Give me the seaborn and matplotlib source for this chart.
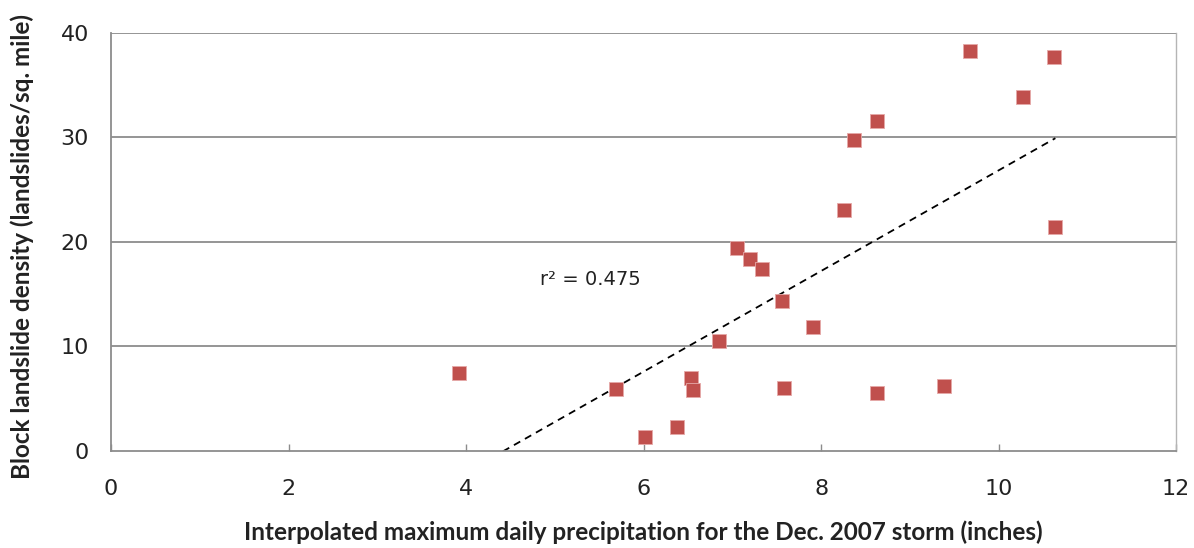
import numpy as np
import pandas as pd
import matplotlib
matplotlib.use("Agg")
import matplotlib.pyplot as plt
import seaborn as sns

precip = [3.92, 5.69, 6.02, 6.38, 6.54, 6.56, 6.85, 7.05, 7.20, 7.34, 7.56,
          7.58, 7.91, 8.26, 8.37, 8.63, 8.63, 9.39, 9.68, 10.28, 10.63, 10.64]
density = [7.46, 5.93, 1.34, 2.30, 6.99, 5.84, 10.5, 19.4, 18.4, 17.4, 14.35,
           6.03, 11.87, 23.06, 29.76, 31.58, 5.55, 6.22, 38.28, 33.88, 37.7, 21.44]
x_ticks = [0, 2, 4, 6, 8, 10, 12]
y_ticks = [0, 10, 20, 30, 40]
r2_label = "r² = 0.475"

df = pd.DataFrame({"precip": precip, "density": density})

sns.set_theme(style="white")
plt.rcParams['font.family'] = ['DejaVu Sans']

fig = plt.figure(figsize=(11.94, 5.48), dpi=100)
ax = fig.add_axes([0.093, 0.177, 0.892, 0.763])

for yv in y_ticks[1:]:
    ax.axhline(yv, color="#8c8c8c", lw=1.3, zorder=0)

sns.scatterplot(data=df, x="precip", y="density", marker="s", s=110,
                color="#C0504D", edgecolor="#e6a9a8", linewidth=0.6, ax=ax, zorder=3)

# linear trendline (Excel-style, over data range)
slope, intercept = np.polyfit(df["precip"], df["density"], 1)
xs = np.linspace(df["precip"].min(), df["precip"].max(), 50)
sns.lineplot(x=xs, y=slope * xs + intercept, color="black", lw=1.3,
             linestyle=(0, (4, 3)), ax=ax, zorder=2)

ax.set_xlim(0, 12)
ax.set_ylim(0, 40)
ax.set_xticks(x_ticks)
ax.set_yticks(y_ticks)
ax.set_xticklabels([str(t) for t in x_ticks], fontsize=16, color="#222222")
ax.set_yticklabels([str(t) for t in y_ticks], fontsize=16, color="#222222")
ax.tick_params(axis="x", direction="in", length=5, width=1, color="#8c8c8c", pad=20, bottom=True)
ax.tick_params(axis="y", length=0, pad=16)

for side in ["left", "bottom"]:
    ax.spines[side].set_color("#8c8c8c")
    ax.spines[side].set_linewidth(1.3)
ax.spines["right"].set_color("#b5b5b5")
ax.spines["right"].set_linewidth(1.0)
ax.spines["top"].set_visible(False)

ax.set_xlabel("Interpolated maximum daily precipitation for the Dec. 2007 storm (inches)",
              fontsize=17.5, family="Lato", fontweight="bold", color="#222222")
ax.set_ylabel("Block landslide density (landslides/sq. mile)",
              fontsize=17.5, family="Lato", fontweight="bold", color="#222222")
ax.xaxis.set_label_coords(0.5, -0.165)
ax.yaxis.set_label_coords(-0.072, 0.49)

ax.text(4.83, 16.4, r2_label, fontsize=14, color="#222222", va="center", ha="left")

fig.savefig("out.png", dpi=100)
